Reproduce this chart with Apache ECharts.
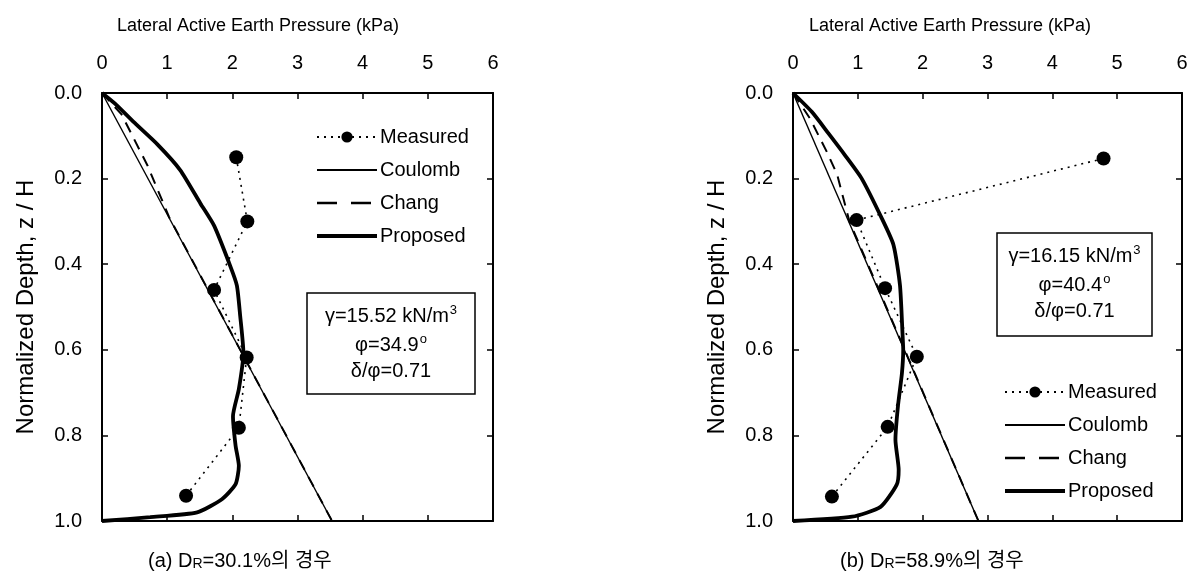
<!DOCTYPE html>
<html>
<head>
<meta charset="utf-8">
<script src="https://cdn.jsdelivr.net/npm/echarts@6/dist/echarts.min.js"></script>
<style>
html,body{margin:0;padding:0;background:#fff;}
#chart{width:1192px;height:577px;}
</style>
</head>
<body>
<div id="chart"></div>
<script>
// ---------- data ----------
const seriesNames = ['Measured', 'Coulomb', 'Chang', 'Proposed'];
const xTitle = 'Lateral Active Earth Pressure (kPa)';
const yTitle = 'Normalized Depth, z / H';
const captionA = ['(a) D', 'R', '=30.1%의 경우'];
const captionB = ['(b) D', 'R', '=58.9%의 경우'];
const boxA = ['γ=15.52 kN/m', '3', 'φ=34.9', 'o', 'δ/φ=0.71'];
const boxB = ['γ=16.15 kN/m', '3', 'φ=40.4', 'o', 'δ/φ=0.71'];

// (a) D_R = 30.1%  [pressure kPa, z/H]
const measuredA = [[2.06,0.150],[2.23,0.300],[1.72,0.460],[2.22,0.618],[2.10,0.782],[1.29,0.941]];
const coulombA  = [[0,0],[3.53,1.0]];
const changA    = [[0,0],[0.30,0.05],[0.70,0.17],[1.03,0.29],[3.53,1.0]];
const proposedA = [[0,0],[0.20,0.025],[0.48,0.067],[0.85,0.12],[1.20,0.18],[1.51,0.258],[1.72,0.31],
                   [1.97,0.405],[2.07,0.45],[2.12,0.52],[2.17,0.607],[2.10,0.692],[2.01,0.755],
                   [2.05,0.824],[2.10,0.871],[2.05,0.914],[1.84,0.949],[1.46,0.98],[0.74,0.991],[0,1.0]];

// (b) D_R = 58.9%
const measuredB = [[4.79,0.153],[0.98,0.297],[1.42,0.456],[1.91,0.616],[1.46,0.780],[0.60,0.943]];
const coulombB  = [[0,0],[2.86,1.0]];
const changB    = [[0,0],[0.26,0.059],[0.52,0.137],[0.68,0.19],[0.87,0.30],[2.86,1.0]];
const proposedB = [[0,0],[0.29,0.044],[0.55,0.095],[0.80,0.145],[1.06,0.20],[1.37,0.293],[1.55,0.355],
                   [1.65,0.449],[1.69,0.565],[1.70,0.60],[1.68,0.655],[1.62,0.73],[1.58,0.81],
                   [1.63,0.88],[1.60,0.915],[1.35,0.967],[0.91,0.99],[0,1.0]];

// ---------- chart ----------
const FONT = '"Liberation Sans", Arial, sans-serif';
const chart = echarts.init(document.getElementById('chart'));

function xAxes(gridIndex) {
  const common = {
    type: 'value', gridIndex, min: 0, max: 6, interval: 1,
    axisLine: {show: true, onZero: false, lineStyle: {color: '#000', width: 2}},
    axisTick: {show: true, inside: true, length: 6, lineStyle: {color: '#000', width: 1.5}},
    splitLine: {show: false}
  };
  return [
    Object.assign({}, common, {position: 'top',
      axisLabel: {show: true, margin: 20, fontSize: 20, color: '#000', fontFamily: FONT}}),
    Object.assign({}, common, {position: 'bottom', axisLabel: {show: false}})
  ];
}
function yAxes(gridIndex) {
  const common = {
    type: 'value', gridIndex, min: 0, max: 1, interval: 0.2, inverse: true,
    axisLine: {show: true, onZero: false, lineStyle: {color: '#000', width: 2}},
    axisTick: {show: true, inside: true, length: 6, lineStyle: {color: '#000', width: 1.5}},
    splitLine: {show: false}
  };
  return [
    Object.assign({}, common, {position: 'left',
      name: yTitle, nameLocation: 'middle', nameGap: 64, nameRotate: 90,
      nameTextStyle: {fontSize: 24, color: '#000', fontFamily: FONT},
      axisLabel: {show: true, margin: 20, fontSize: 20, color: '#000', fontFamily: FONT,
        formatter: v => v.toFixed(1)}}),
    Object.assign({}, common, {position: 'right', axisLabel: {show: false}})
  ];
}
function makeSeries(measured, coulomb, chang, proposed) {
  const base = {type: 'line', animation: false, z: 2, itemStyle: {color: '#000'}};
  return [
    Object.assign({}, base, {name: 'Chang', data: chang, showSymbol: false, symbol: 'none',
      lineStyle: {color: '#000', width: 2, type: [11, 8]}}),
    Object.assign({}, base, {name: 'Coulomb', data: coulomb, showSymbol: false, symbol: 'none',
      lineStyle: {color: '#000', width: 1.4}}),
    Object.assign({}, base, {name: 'Proposed', data: proposed, showSymbol: false, symbol: 'none',
      smooth: 0.2, lineStyle: {color: '#000', width: 3.8}}),
    Object.assign({}, base, {name: 'Measured', data: measured, symbol: 'circle', symbolSize: 14,
      lineStyle: {color: '#000', width: 1.6, type: [2, 5]}, z: 3})
  ];
}
function legendAt(left, top) {
  return {
    data: [
      {name: 'Measured'},
      {name: 'Coulomb', itemStyle: {opacity: 0}},
      {name: 'Chang', itemStyle: {opacity: 0}, lineStyle: {type: [20, 14], width: 2.5}},
      {name: 'Proposed', itemStyle: {opacity: 0}, lineStyle: {width: 4}}
    ],
    orient: 'vertical', left, top, itemWidth: 60, itemHeight: 14, itemGap: 13,
    selectedMode: false, textStyle: {fontSize: 20, color: '#000', fontFamily: FONT, padding: [0,0,0,-2]}
  };
}
function boxGraphics(x, y, w, h, t) {
  const cx = x + w / 2;
  const rich = {n: {fontSize: 20, fontFamily: FONT, fill: '#000'},
                sup: {fontSize: 13, fontFamily: FONT, fill: '#000', padding: [0, 0, 12, 1]}};
  return [
    {type: 'rect', shape: {x, y, width: w, height: h}, style: {fill: '#fff', stroke: '#000', lineWidth: 1.5}, z: 10},
    {type: 'text', x: cx, y: y + 23, z: 11, style: {text: '{n|' + t[0] + '}{sup|' + t[1] + '}', rich,
      textAlign: 'center', textVerticalAlign: 'middle'}},
    {type: 'text', x: cx, y: y + 52, z: 11, style: {text: '{n|' + t[2] + '}{sup|' + t[3] + '}', rich,
      textAlign: 'center', textVerticalAlign: 'middle'}},
    {type: 'text', x: cx, y: y + 78, z: 11, style: {text: '{n|' + t[4] + '}', rich,
      textAlign: 'center', textVerticalAlign: 'middle'}}
  ];
}
function captionGraphic(x, y, c) {
  return {type: 'text', x, y, style: {
    text: '{n|' + c[0] + '}{s|' + c[1] + '}{n|' + c[2] + '}',
    rich: {n: {fontSize: 20, fontFamily: '"Liberation Sans", "Noto Sans CJK KR", sans-serif', fill: '#000'},
           s: {fontSize: 14, fontFamily: FONT, fill: '#000', padding: [7, 0, 0, 0]}},
    textAlign: 'left', textVerticalAlign: 'middle'}};
}
function titleGraphic(cx, y) {
  return {type: 'text', x: cx, y, style: {text: xTitle, fontSize: 18, fontFamily: FONT, fill: '#000',
    textAlign: 'center', textVerticalAlign: 'middle'}};
}

const option = {
  backgroundColor: '#fff',
  animation: false,
  grid: [
    {left: 102, top: 93, width: 391, height: 428},
    {left: 793, top: 93, width: 389, height: 428}
  ],
  xAxis: [...xAxes(0), ...xAxes(1)],
  yAxis: [...yAxes(0), ...yAxes(1)],
  legend: [legendAt(310, 122), legendAt(998, 377)],
  series: [
    ...makeSeries(measuredA, coulombA, changA, proposedA).map(s => Object.assign(s, {xAxisIndex: 0, yAxisIndex: 0})),
    ...makeSeries(measuredB, coulombB, changB, proposedB).map(s => Object.assign(s, {xAxisIndex: 2, yAxisIndex: 2}))
  ],
  graphic: [
    titleGraphic(258, 26),
    titleGraphic(950, 26),
    ...boxGraphics(307, 293, 168, 101, boxA),
    ...boxGraphics(997, 233, 155, 103, boxB),
    captionGraphic(148, 561, captionA),
    captionGraphic(840, 561, captionB)
  ]
};
chart.setOption(option);
</script>
</body>
</html>
